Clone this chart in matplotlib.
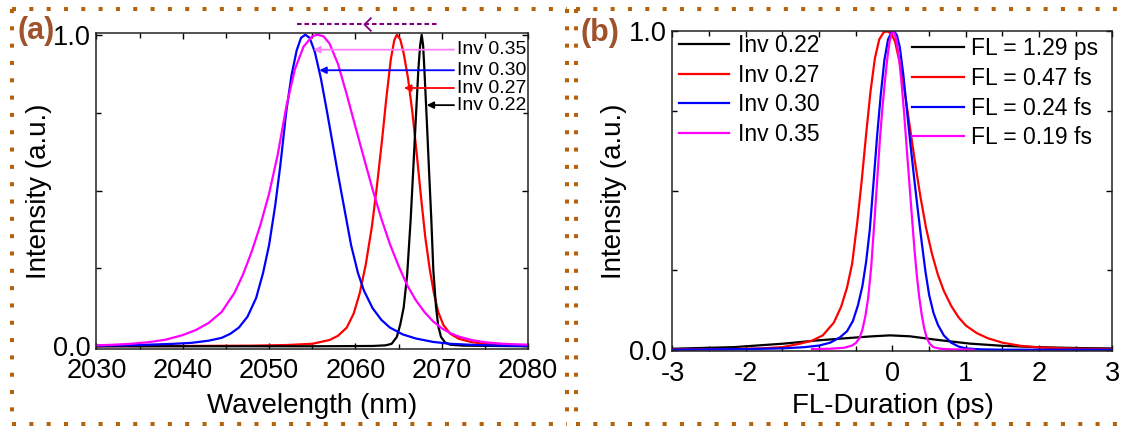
import matplotlib
matplotlib.use('Agg')
import matplotlib.pyplot as plt
from matplotlib.lines import Line2D
from matplotlib.ticker import MultipleLocator

plt.rcParams['font.family'] = ['Liberation Sans', 'DejaVu Sans']
plt.rcParams['axes.unicode_minus'] = False

# === Data ===
# (a) spectra: wavelength (nm) vs normalised intensity
wl_022 = [2030, 2055, 2062, 2063.5, 2064.2, 2064.8, 2065.2, 2065.6, 2066.0, 2066.4, 2066.7,
          2067.0, 2067.3, 2067.5, 2067.68, 2067.85, 2068.0, 2068.27, 2068.53, 2068.8,
          2069.03, 2069.34, 2069.6, 2069.92, 2070.4, 2071, 2072.5, 2080]
int_022 = [0, 0, 0.001, 0.003, 0.008, 0.03, 0.07, 0.125, 0.23, 0.405, 0.565,
           0.73, 0.89, 0.965, 1.0, 0.965, 0.885, 0.727, 0.566, 0.405,
           0.245, 0.127, 0.065, 0.03, 0.012, 0.005, 0.002, 0]

wl_027 = [2030, 2040, 2048, 2052, 2055, 2057, 2058, 2059, 2059.8, 2060.5, 2061.2, 2061.9,
          2062.5, 2063.1, 2063.6, 2064.1, 2064.5, 2064.8, 2065.2, 2065.6, 2066.1, 2066.6,
          2067.1, 2067.6, 2068.1, 2068.6, 2069.1, 2069.6, 2070.2, 2071, 2072, 2073.5, 2076, 2080]
int_027 = [0, 0.001, 0.002, 0.004, 0.008, 0.02, 0.034, 0.06, 0.105, 0.17, 0.262, 0.382,
           0.515, 0.665, 0.80, 0.92, 0.982, 1.0, 0.985, 0.94, 0.86, 0.752,
           0.62, 0.48, 0.35, 0.25, 0.17, 0.11, 0.068, 0.04, 0.024, 0.013, 0.005, 0.002]

wl_030 = [2030, 2033, 2036, 2039, 2041, 2043, 2044.5, 2045.5, 2046.5, 2047.5, 2048.5, 2049.3,
          2050, 2050.7, 2051.3, 2052, 2052.6, 2053.2, 2053.7, 2054.2, 2054.7, 2055.3, 2056,
          2056.7, 2057.4, 2058, 2058.7, 2059.5, 2060.3, 2061, 2062, 2063, 2064, 2065.5, 2067,
          2069, 2071, 2074, 2077, 2080]
int_030 = [0.002, 0.003, 0.005, 0.008, 0.011, 0.018, 0.027, 0.040, 0.060, 0.095, 0.155, 0.235,
           0.325, 0.45, 0.58, 0.755, 0.87, 0.95, 0.99, 1.0, 0.99, 0.945, 0.86,
           0.755, 0.645, 0.55, 0.445, 0.325, 0.235, 0.178, 0.122, 0.085, 0.06, 0.038, 0.025,
           0.014, 0.008, 0.004, 0.002, 0.001]

wl_035 = [2030, 2032, 2034, 2036, 2038, 2040, 2041.5, 2043, 2044.5, 2046, 2047, 2048, 2049,
          2050, 2051, 2052, 2053, 2054, 2055, 2055.6, 2056.3, 2057, 2058, 2059, 2060, 2061,
          2062, 2063, 2064, 2065, 2066, 2067, 2068, 2069, 2070, 2071, 2072, 2073.5, 2075,
          2077, 2080]
int_035 = [0.003, 0.005, 0.008, 0.013, 0.021, 0.036, 0.052, 0.075, 0.11, 0.172, 0.232, 0.305,
           0.39, 0.49, 0.615, 0.77, 0.89, 0.962, 0.995, 1.0, 0.995, 0.972, 0.905, 0.808,
           0.705, 0.603, 0.503, 0.41, 0.328, 0.258, 0.196, 0.148, 0.11, 0.08, 0.058, 0.042,
           0.031, 0.02, 0.013, 0.008, 0.005]

# (b) transform-limited pulses: time (ps) vs normalised intensity
t_022 = [-3, -2.165, -1.483, -1.03, -0.574, -0.278, -0.033, 0.24, 0.603, 1.058, 1.513, 1.967, 2.56, 3]
p_022 = [0.003, 0.008, 0.019, 0.029, 0.037, 0.042, 0.045, 0.042, 0.031, 0.019, 0.012, 0.008, 0.005, 0.004]

t_027 = [-3, -2.2, -1.8, -1.5, -1.28, -1.1, -0.95, -0.8, -0.7, -0.62, -0.55, -0.48, -0.42,
         -0.36, -0.3, -0.24, -0.18, -0.12, -0.07, -0.02, 0.035, 0.1, 0.17, 0.24, 0.31, 0.38,
         0.46, 0.54, 0.62, 0.7, 0.8, 0.9, 1.0, 1.15, 1.3, 1.5, 1.75, 2.0, 2.5, 3]
p_027 = [0.001, 0.002, 0.004, 0.008, 0.018, 0.028, 0.045, 0.085, 0.135, 0.195, 0.27, 0.40, 0.53,
         0.675, 0.81, 0.915, 0.975, 0.997, 1.0, 0.994, 0.968, 0.9, 0.805, 0.695, 0.585, 0.482,
         0.38, 0.3, 0.235, 0.185, 0.138, 0.102, 0.076, 0.052, 0.036, 0.022, 0.012, 0.007, 0.003, 0.002]

t_030 = [-3, -2, -1.5, -1.2, -1.0, -0.85, -0.72, -0.62, -0.54, -0.47, -0.41, -0.36, -0.31,
         -0.26, -0.21, -0.16, -0.11, -0.06, -0.01, 0.022, 0.06, 0.1, 0.15, 0.2, 0.25, 0.3,
         0.35, 0.4, 0.45, 0.5, 0.56, 0.62, 0.7, 0.8, 0.9, 1.0, 1.2, 1.5, 3]
p_030 = [0.0, 0.002, 0.004, 0.008, 0.013, 0.022, 0.038, 0.058, 0.09, 0.14, 0.2, 0.275, 0.375,
         0.52, 0.67, 0.8, 0.91, 0.975, 0.998, 1.0, 0.988, 0.95, 0.86, 0.745, 0.635, 0.53,
         0.43, 0.335, 0.245, 0.172, 0.115, 0.078, 0.045, 0.022, 0.01, 0.004, 0.001, 0.0, 0.0]

t_035 = [-1.097, -0.85, -0.66, -0.55, -0.5, -0.45, -0.41, -0.37, -0.33, -0.29, -0.24, -0.205,
         -0.17, -0.135, -0.099, -0.07, -0.04, -0.015, 0.005, 0.03, 0.058, 0.09, 0.126, 0.16,
         0.194, 0.23, 0.263, 0.3, 0.331, 0.365, 0.399, 0.43, 0.467, 0.51, 0.558, 0.65, 0.8, 1.103]
p_035 = [0.002, 0.003, 0.006, 0.013, 0.021, 0.036, 0.063, 0.105, 0.165, 0.26, 0.424, 0.545,
         0.665, 0.765, 0.853, 0.915, 0.968, 0.992, 1.0, 0.992, 0.968, 0.915, 0.832, 0.74,
         0.633, 0.525, 0.424, 0.315, 0.236, 0.165, 0.11, 0.07, 0.037, 0.018, 0.008, 0.003, 0.001, 0.0]

inv_labels = ['Inv 0.22', 'Inv 0.27', 'Inv 0.30', 'Inv 0.35']
fl_labels = ['FL = 1.29 ps', 'FL = 0.47 fs', 'FL = 0.24 fs', 'FL = 0.19 fs']
colors = ['black', 'red', 'blue', 'magenta']

# arrow annotations in (a): label, arrow tip (x, y), colour
ann_tips_x = [2055.12, 2055.82, 2065.63, 2068.26]
ann_tips_y = [0.952, 0.886, 0.829, 0.774]
ann_labels = ['Inv 0.35', 'Inv 0.30', 'Inv 0.27', 'Inv 0.22']
ann_colors = ['#FF80FF', 'blue', 'red', 'black']
ann_text_x = 2071.75

brown = '#B5620F'
label_brown = '#A0522D'
lw = 1.6

fig = plt.figure(figsize=(11.27, 4.26), dpi=100)
ax1 = fig.add_axes([0.0856, 0.1815, 0.3829, 0.7399])
ax2 = fig.add_axes([0.5967, 0.1754, 0.3904, 0.7525])

# --- (a) ---
ax1.plot(wl_027, int_027, color='red', lw=lw)
ax1.plot(wl_022, int_022, color='black', lw=lw)
ax1.plot(wl_030, int_030, color='blue', lw=lw)
ax1.plot(wl_035, int_035, color='magenta', lw=lw)

for lab, tx, ty, c in zip(ann_labels, ann_tips_x, ann_tips_y, ann_colors):
    ax1.annotate(lab, xy=(tx, ty), xytext=(ann_text_x, ty), fontsize=14,
                 va='center', ha='left',
                 arrowprops=dict(arrowstyle='-|>', color=c, lw=1.3,
                                 shrinkA=0, shrinkB=0, mutation_scale=10))

# dashed shift arrow above panel (a)
shift_x = [2053.25, 2069.6]
shift_y = 1.035
ax1.plot(shift_x, [shift_y, shift_y], color='purple', lw=1.5, ls=(0, (2.2, 1.4)),
         clip_on=False)
ax1.plot([2061.0], [shift_y], color='purple', marker=[(1, 1), (0, 0), (1, -1)],
         ms=10, mfc='none', mec='purple', mew=1.3, clip_on=False)

ax1.set_xlim(2030, 2080)
ax1.set_ylim(-0.0077, 1.004)
ax1.xaxis.set_major_locator(MultipleLocator(10))
ax1.xaxis.set_minor_locator(MultipleLocator(5))
ax1.set_xlabel('Wavelength (nm)', fontsize=20, labelpad=6)

# --- (b) ---
lines = []
for t, p, c in zip([t_022, t_027, t_030, t_035], [p_022, p_027, p_030, p_035], colors):
    ln, = ax2.plot(t, p, color=c, lw=lw)
    lines.append(ln)

leg1 = ax2.legend(lines, inv_labels, loc='upper left', bbox_to_anchor=(0.0148, 0.99),
                  frameon=False, fontsize=16.5, borderpad=0, borderaxespad=0,
                  handlelength=2.2, handletextpad=0.38, labelspacing=0.29)
ax2.add_artist(leg1)
ax2.legend(lines, fl_labels, loc='upper left', bbox_to_anchor=(0.5436, 0.979),
           frameon=False, fontsize=16.5, borderpad=0, borderaxespad=0,
           handlelength=2.3, handletextpad=0.3, labelspacing=0.29)

ax2.set_xlim(-3, 3)
ax2.set_ylim(-0.005, 1.002)
ax2.xaxis.set_major_locator(MultipleLocator(1))
ax2.xaxis.set_minor_locator(MultipleLocator(0.5))
ax2.set_xlabel('FL-Duration (ps)', fontsize=20)

for ax in (ax1, ax2):
    ax.yaxis.set_major_locator(MultipleLocator(0.5))
    ax.yaxis.set_minor_locator(MultipleLocator(0.25))
    ax.set_yticks([0, 0.5, 1.0])
    ax.set_yticklabels(['0.0', '', '1.0'])
    ax.tick_params(which='both', direction='in', top=True, right=True, width=1)
    ax.tick_params(which='major', length=4.5, labelsize=19.5)
    ax.tick_params(which='minor', length=3.5)
    ax.tick_params(axis='x', pad=7)
    ax.tick_params(axis='y', pad=4)
    for s in ax.spines.values():
        s.set_linewidth(1.1)
        s.set_color('#222222')
    ax.set_ylabel('Intensity (a.u.)', fontsize=20)

ax1.yaxis.set_label_coords(-0.102, 0.5)
ax2.yaxis.set_label_coords(-0.1045, 0.5)

# panel labels
fig.text(36 / 1127, 1 - 31 / 426, '(a)', ha='center', va='center', fontsize=22,
         fontweight='bold', color=label_brown)
fig.text(600 / 1127, 1 - 33 / 426, '(b)', ha='center', va='center', fontsize=22,
         fontweight='bold', color=label_brown)

# dotted panel frames (figure pixels)
W, H = 1127, 426
def frame(x0, y0, x1, y1, right=True):
    segs = [((x0, x1), (y0, y0)), ((x0, x1), (y1, y1)), ((x0, x0), (y0, y1))]
    if right:
        segs.append(((x1, x1), (y0, y1)))
    for xs, ys in segs:
        fig.add_artist(Line2D([x / W for x in xs], [1 - y / H for y in ys],
                              color=brown, lw=2.9, ls=(0, (1, 3.3)),
                              solid_capstyle='butt', dash_capstyle='butt'))

frame(11.7, 9.3, 566.7, 424)
frame(576, 9.3, 1135, 424, right=False)

fig.savefig('out.png', dpi=100)
